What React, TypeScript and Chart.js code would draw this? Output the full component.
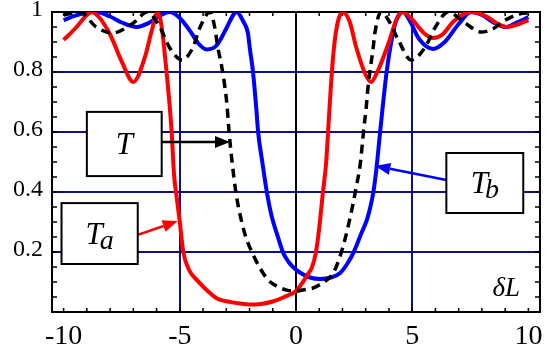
import React, { useEffect, useRef } from "react";
import { Chart, registerables } from "chart.js";

Chart.register(...registerables);

// ---- data ----
const redX = [-10, -9.5, -9, -8.8, -8.5, -8, -7.5, -7, -6.5, -6.2, -5.95, -5.8, -5.57, -5.35, -5.25, -5.13, -5.0, -4.85, -4.6, -4.27, -3.8, -3.4, -2.8, -2.4, -2, -1.5, -1, -0.5, 0, 0.3, 0.5, 0.68, 0.86, 1.0, 1.16, 1.3, 1.38, 1.5, 1.62, 1.78, 2.0, 2.3, 2.6, 3.0, 3.23, 3.5, 4.0, 4.3, 4.6, 5.0, 5.5, 5.9, 6.3, 6.8, 7.5, 8.2, 8.7, 9.1, 9.6, 10];
const redY = [0.907, 0.945, 0.99, 1.0, 0.985, 0.925, 0.835, 0.767, 0.85, 0.94, 1.0, 0.96, 0.8, 0.6, 0.46, 0.38, 0.3, 0.2, 0.14, 0.107, 0.07, 0.045, 0.033, 0.028, 0.025, 0.027, 0.035, 0.05, 0.07, 0.1, 0.125, 0.147, 0.2, 0.28, 0.4, 0.5, 0.6, 0.75, 0.87, 0.96, 1.0, 0.97, 0.88, 0.79, 0.767, 0.8, 0.9, 0.97, 1.0, 0.975, 0.93, 0.913, 0.925, 0.97, 1.0, 0.985, 0.96, 0.95, 0.96, 0.973];

const blueX = [-10, -9.5, -9, -8.6, -8, -7.5, -6.85, -6.3, -5.8, -5.45, -5.0, -4.5, -4.2, -3.84, -3.4, -3.0, -2.7, -2.55, -2.28, -2.07, -1.98, -1.85, -1.7, -1.63, -1.45, -1.24, -1.05, -0.83, -0.55, -0.3, -0.13, 0.2, 0.6, 1.03, 1.5, 1.9, 2.2, 2.47, 2.8, 3.05, 3.2, 3.33, 3.45, 3.62, 3.9, 4.1, 4.3, 4.6, 4.9, 5.3, 5.9, 6.4, 7.0, 7.54, 8.0, 8.5, 9.0, 9.5, 10];
const blueY = [0.973, 0.988, 0.997, 1.0, 0.985, 0.965, 0.95, 0.965, 0.99, 1.0, 0.98, 0.93, 0.895, 0.875, 0.89, 0.945, 0.99, 1.0, 0.97, 0.93, 0.875, 0.8, 0.67, 0.6, 0.5, 0.393, 0.32, 0.263, 0.197, 0.165, 0.15, 0.13, 0.115, 0.11, 0.115, 0.13, 0.16, 0.197, 0.26, 0.307, 0.35, 0.4, 0.47, 0.6, 0.8, 0.9, 0.97, 1.0, 0.97, 0.91, 0.877, 0.9, 0.96, 1.0, 0.99, 0.965, 0.95, 0.965, 0.983];

const blackX = [-10, -9.3, -8.6, -7.9, -7.0, -6.4, -5.86, -5.43, -4.9, -4.43, -4.14, -3.7, -3.5, -3.36, -3.2, -3.06, -2.97, -2.88, -2.75, -2.59, -2.45, -2.2, -1.9, -1.5, -1.2, -0.8, -0.4, 0, 0.4, 0.73, 1.0, 1.33, 1.6, 1.85, 2.1, 2.4, 2.6, 2.76, 2.93, 3.02, 3.1, 3.32, 3.4, 3.66, 4.0, 4.4, 4.96, 5.56, 6.0, 6.55, 7.28, 7.97, 8.5, 9.0, 9.9, 10];
const blackY = [0.99, 1.0, 0.95, 0.93, 0.963, 1.0, 0.95, 0.88, 0.84, 0.883, 0.947, 1.0, 0.95, 0.88, 0.82, 0.75, 0.69, 0.6, 0.5, 0.4, 0.34, 0.26, 0.2, 0.14, 0.107, 0.085, 0.073, 0.07, 0.075, 0.08, 0.09, 0.107, 0.13, 0.175, 0.24, 0.34, 0.42, 0.49, 0.62, 0.68, 0.75, 0.88, 0.933, 1.0, 0.97, 0.907, 0.84, 0.883, 0.95, 1.0, 0.963, 0.933, 0.945, 0.973, 0.997, 0.997];

const xTickValues = [-10, -5, 0, 5, 10];
const xTickLabels = ["-10", "-5", "0", "5", "10"];
const yTickValues = [0.2, 0.4, 0.6, 0.8, 1];
const yTickLabels = ["0.2", "0.4", "0.6", "0.8", "1"];

// annotation boxes in data coordinates
const labelBoxes = [
  { main: "T", sub: "", color: "#000000", x0: -9.0, x1: -5.78, y0: 0.667, y1: 0.453, fromX: -5.78, fromY: 0.567, toX: -2.84, toY: 0.567 },
  { main: "T", sub: "a", color: "#ff0000", x0: -10.09, x1: -6.81, y0: 0.363, y1: 0.16, fromX: -6.81, fromY: 0.257, toX: -5.09, toY: 0.303 },
  { main: "T", sub: "b", color: "#0000ff", x0: 6.47, x1: 9.78, y0: 0.53, y1: 0.33, fromX: 6.47, fromY: 0.44, toX: 3.41, toY: 0.487 },
];
const axisLabel = { text: "δL", x: 9.05, y: 0.077 };

const GRID = "#101080";
const SERIF = "\"Liberation Serif\", \"Times New Roman\", Tinos, \"Nimbus Roman\", FreeSerif, serif";

const toPts = (xs: number[], ys: number[]) => xs.map((x, i) => ({ x, y: ys[i] }));

const decorPlugin = {
  id: "decor",
  beforeDatasetsDraw(chart: any) {
    const { ctx, chartArea: a } = chart;
    const xs = chart.scales.x;
    const ys = chart.scales.y;
    ctx.save();
    ctx.strokeStyle = "#000";
    ctx.lineWidth = 2;
    ctx.strokeRect(a.left, a.top, a.right - a.left, a.bottom - a.top);
    ctx.lineWidth = 1.5;
    for (let i = 0; i <= 20; i++) {
      const py = ys.getPixelForValue(i * 0.05);
      ctx.beginPath();
      ctx.moveTo(a.left, py);
      ctx.lineTo(a.left + 5, py);
      ctx.moveTo(a.right, py);
      ctx.lineTo(a.right - 5, py);
      ctx.stroke();
    }
    for (let v = -10; v <= 10; v++) {
      const px = xs.getPixelForValue(v);
      ctx.beginPath();
      ctx.moveTo(px, a.bottom);
      ctx.lineTo(px, a.bottom - 4);
      ctx.moveTo(px, a.top);
      ctx.lineTo(px, a.top + 4);
      ctx.stroke();
    }
    ctx.restore();
  },
  afterDatasetsDraw(chart: any) {
    const { ctx } = chart;
    const xs = chart.scales.x;
    const ys = chart.scales.y;
    const X = (v: number) => xs.getPixelForValue(v);
    const Y = (v: number) => ys.getPixelForValue(v);
    ctx.save();
    for (const b of labelBoxes) {
      const fx = X(b.fromX), fy = Y(b.fromY), tx = X(b.toX), ty = Y(b.toY);
      const ang = Math.atan2(ty - fy, tx - fx);
      const hl = 15, hw = 6;
      const bx = tx - hl * Math.cos(ang), by = ty - hl * Math.sin(ang);
      ctx.strokeStyle = b.color;
      ctx.fillStyle = b.color;
      ctx.lineWidth = 2.5;
      ctx.beginPath();
      ctx.moveTo(fx, fy);
      ctx.lineTo(bx, by);
      ctx.stroke();
      ctx.beginPath();
      ctx.moveTo(tx, ty);
      ctx.lineTo(bx + hw * Math.sin(ang), by - hw * Math.cos(ang));
      ctx.lineTo(bx - hw * Math.sin(ang), by + hw * Math.cos(ang));
      ctx.closePath();
      ctx.fill();
      const l = X(b.x0), r = X(b.x1), t = Y(b.y0), bt = Y(b.y1);
      ctx.fillStyle = "#fff";
      ctx.fillRect(l, t, r - l, bt - t);
      ctx.strokeStyle = "#000";
      ctx.lineWidth = 2;
      ctx.strokeRect(l, t, r - l, bt - t);
      ctx.fillStyle = "#000";
      ctx.textBaseline = "alphabetic";
      ctx.font = `italic 31px ${SERIF}`;
      const mw = ctx.measureText(b.main).width;
      ctx.font = `italic 28px ${SERIF}`;
      const sw = b.sub ? ctx.measureText(b.sub).width : 0;
      const gap = b.sub ? -3 : 0;
      const total = mw + sw + gap;
      const cx = (l + r) / 2, cy = (t + bt) / 2;
      const base = cy + 10;
      ctx.textAlign = "left";
      ctx.font = `italic 31px ${SERIF}`;
      ctx.fillText(b.main, cx - total / 2, base);
      if (b.sub) {
        ctx.font = `italic 28px ${SERIF}`;
        ctx.fillText(b.sub, cx - total / 2 + mw + gap, base + 5);
      }
    }
    ctx.font = `italic 27px ${SERIF}`;
    ctx.textAlign = "center";
    ctx.textBaseline = "middle";
    ctx.fillStyle = "#000";
    ctx.fillText(axisLabel.text, X(axisLabel.x), Y(axisLabel.y));
    ctx.restore();
  },
};

export default function App() {
  const ref = useRef<HTMLCanvasElement | null>(null);
  useEffect(() => {
    if (!ref.current) return;
    const chart = new Chart(ref.current, {
      type: "line",
      data: {
        datasets: [
          {
            label: "T",
            data: toPts(blackX, blackY),
            borderColor: "#000",
            borderWidth: 3.5,
            borderDash: [9, 6],
            pointRadius: 0,
            cubicInterpolationMode: "monotone",
          },
          {
            label: "Ta",
            data: toPts(redX, redY),
            borderColor: "#ff0000",
            borderWidth: 4,
            pointRadius: 0,
            cubicInterpolationMode: "monotone",
          },
          {
            label: "Tb",
            data: toPts(blueX, blueY),
            borderColor: "#0000ff",
            borderWidth: 4,
            pointRadius: 0,
            cubicInterpolationMode: "monotone",
          },
        ],
      },
      options: {
        animation: false,
        responsive: false,
        devicePixelRatio: 1,
        font: { family: SERIF },
        layout: { padding: { top: 12, right: 18, left: 0, bottom: 0 } },
        plugins: { legend: { display: false }, tooltip: { enabled: false } },
        scales: {
          x: {
            type: "linear",
            min: -10.5,
            max: 10.5,
            afterFit: (s: any) => {
              s.height = 39;
              s.paddingLeft = 0;
              s.paddingRight = 0;
            },
            afterBuildTicks: (s: any) => {
              s.ticks = xTickValues.map((v) => ({ value: v }));
            },
            ticks: {
              autoSkip: false,
              maxRotation: 0,
              padding: 8,
              color: "#000",
              font: { family: SERIF, size: 28 },
              callback: (v: any) => {
                const i = xTickValues.indexOf(Number(v));
                return i >= 0 ? xTickLabels[i] : "";
              },
            },
            grid: {
              drawTicks: false,
              lineWidth: 2,
              color: (c: any) => {
                const v = c.tick ? c.tick.value : 0;
                if (v === 0) return "#000";
                if (Math.abs(v) === 5) return GRID;
                return "rgba(0,0,0,0)";
              },
            },
            border: { display: false },
          },
          y: {
            type: "linear",
            min: 0,
            max: 1,
            afterFit: (s: any) => {
              s.width = 52;
              s.paddingTop = 0;
              s.paddingBottom = 0;
            },
            afterBuildTicks: (s: any) => {
              s.ticks = [0, ...yTickValues].map((v) => ({ value: v }));
            },
            ticks: {
              padding: 9,
              labelOffset: -2,
              color: "#000",
              font: { family: SERIF, size: 24 },
              callback: (v: any) => {
                const i = yTickValues.findIndex((t) => Math.abs(t - Number(v)) < 1e-6);
                return i >= 0 ? yTickLabels[i] : "";
              },
            },
            grid: {
              drawTicks: false,
              lineWidth: 2,
              color: (c: any) => {
                const v = c.tick ? c.tick.value : 0;
                if (v <= 0.001 || v >= 0.999) return "rgba(0,0,0,0)";
                return GRID;
              },
            },
            border: { display: false },
          },
        },
      },
      plugins: [decorPlugin],
    } as any);
    return () => chart.destroy();
  }, []);
  return (
    <div style={{ position: "fixed", left: 0, top: 0, width: 558, height: 351, background: "#fff" }}>
      <canvas ref={ref} width={558} height={351} style={{ display: "block" }} />
    </div>
  );
}
